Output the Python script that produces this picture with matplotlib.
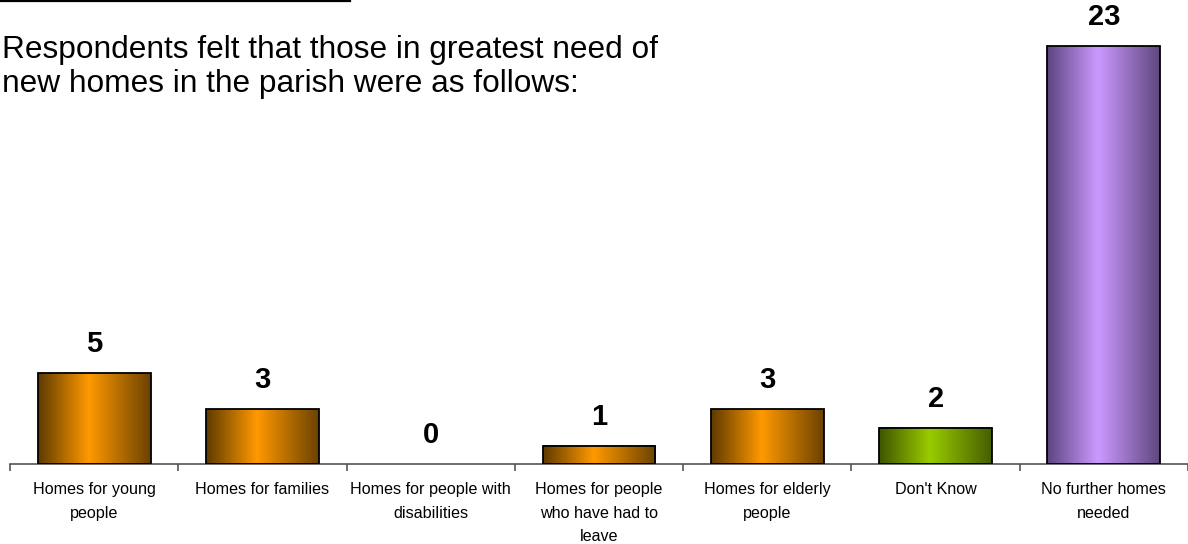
import numpy as np
import matplotlib
matplotlib.use("Agg")
import matplotlib.pyplot as plt
from matplotlib.colors import LinearSegmentedColormap
from matplotlib.lines import Line2D

categories = ["Homes for young\npeople", "Homes for families", "Homes for people with\ndisabilities",
              "Homes for people\nwho have had to\nleave", "Homes for elderly\npeople", "Don't Know",
              "No further homes\nneeded"]
values = [5, 3, 0, 1, 3, 2, 23]
palette = [("#5e3a00", "#ff9900", "#6b4200"), ("#5e3a00", "#ff9900", "#6b4200"),
           ("#5e3a00", "#ff9900", "#6b4200"), ("#5e3a00", "#ff9900", "#6b4200"),
           ("#5e3a00", "#ff9900", "#6b4200"), ("#3f5400", "#99cc00", "#465e00"),
           ("#5c4580", "#cc99ff", "#5e4880")]

plt.rcParams['font.family'] = ['Liberation Sans', 'DejaVu Sans']

W, H = 1188, 544
fig = plt.figure(figsize=(W / 100, H / 100), dpi=100)
px_per_unit = 418 / 23
base_y = 464
ymax = 25
ax_h = ymax * px_per_unit
left_px = 10
cat_w = 169.7
ax = fig.add_axes([left_px / W, (H - base_y) / H, 1 - left_px / W, ax_h / H])

bar_w = 0.67
edge_w = [1.3 if v > 0 else 0 for v in values]
bars = ax.bar(range(len(values)), values, width=bar_w, color="none", edgecolor="black",
              linewidth=edge_w, zorder=3)
for i, (b, v) in enumerate(zip(bars, values)):
    if v > 0:
        c0, c1, c2 = palette[i]
        cmap = LinearSegmentedColormap.from_list("g", [(0, c0), (0.45, c1), (1, c2)])
        grad = np.linspace(0, 1, 256).reshape(1, -1)
        ax.imshow(grad, cmap=cmap, aspect="auto", zorder=2,
                  extent=[b.get_x(), b.get_x() + b.get_width(), 0, v], interpolation="bilinear")
    ax.annotate(str(v), (i, v), xytext=(0, 15), textcoords="offset pixels", ha="center",
                va="bottom", fontsize=21, fontweight="bold", annotation_clip=False)
ax.set_xlim(-0.5, -0.5 + (W - left_px) / cat_w)
ax.set_ylim(0, ymax)

for s in ["top", "right", "left"]:
    ax.spines[s].set_visible(False)
ax.spines["bottom"].set_color("#555555")
ax.spines["bottom"].set_linewidth(1.2)
ax.set_yticks([])
ax.set_xticks(np.arange(-0.5, len(values) + 0.5, 1))
ax.set_xticklabels([])
ax.tick_params(axis="x", which="major", direction="out", length=5, width=1.2, color="#555555")
ax.set_xticks(range(len(values)), minor=True)
ax.set_xticklabels(categories, minor=True, fontsize=11.6, linespacing=1.72, va="top")
ax.tick_params(axis="x", which="minor", length=0, pad=13)

fig.text(2 / W, 1 - 92 / H, "Respondents felt that those in greatest need of\nnew homes in the parish were as follows:",
         fontsize=22.8, va="baseline", ha="left", linespacing=1.18)
fig.add_artist(Line2D([0, 350 / W], [1 - 0.8 / H, 1 - 0.8 / H], color="black", linewidth=1.6,
                      transform=fig.transFigure))

fig.savefig("out.png", dpi=100)
